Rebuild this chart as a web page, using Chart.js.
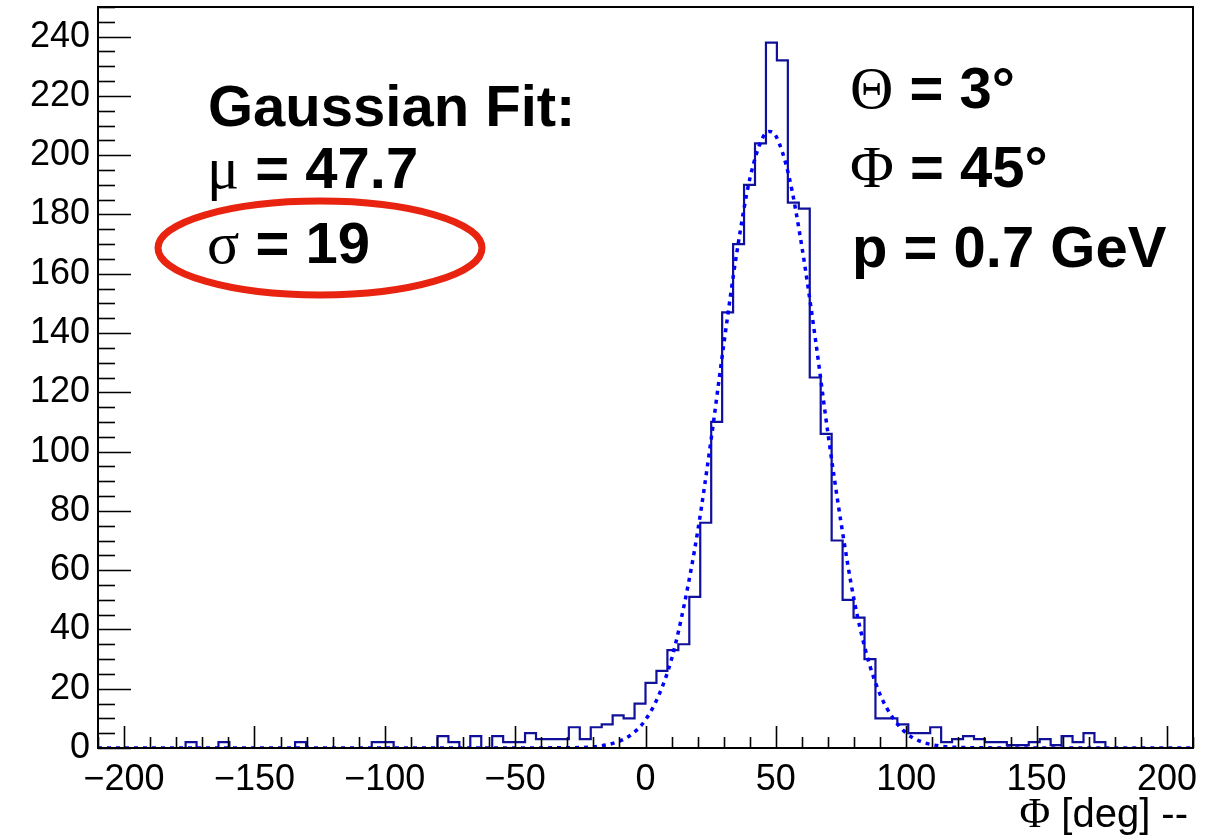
<!DOCTYPE html>
<html>
<head>
<meta charset="utf-8">
<script src="https://cdn.jsdelivr.net/npm/chart.js@4.4.1/dist/chart.umd.min.js"></script>
<style>
  html, body { margin: 0; padding: 0; background: #fff; }
  #wrap { width: 1220px; height: 837px; }
</style>
</head>
<body>
<div id="wrap"><canvas id="c" width="1220" height="837"></canvas></div>
<script>
// histogram: 100 bins from -210 to 210
const BIN_LO = -210, BIN_W = 4.2;
const counts = [
  0, 0, 0, 0, 0, 0, 0, 0, 2, 0,
  0, 2, 0, 0, 0, 0, 0, 0, 2, 0,
  0, 0, 0, 0, 0, 2, 2, 0, 0, 0,
  0, 4, 2, 0, 4, 0, 4, 2, 2, 5,
  3, 3, 3, 7, 3, 7, 8, 11, 10, 15,
  22, 26, 33, 35, 51, 76, 110, 147, 170, 190,
  204, 238, 232, 184, 182, 125, 106, 70, 50, 44,
  30, 10, 10, 8, 5, 5, 7, 2, 3, 4,
  3, 2, 2, 1, 1, 2, 3, 1, 4, 2,
  5, 2, 0, 0, 0, 0, 0, 0, 0, 0
];

// gaussian fit curve
const fitX = [-210, -100, -50, -30, -20, -10, -5, 0, 5, 10, 15, 20, 25, 30, 35, 40, 45, 47.5,
              50, 55, 60, 65, 70, 75, 80, 85, 90, 95, 100, 105, 110, 120, 150, 210];
const fitY = [0, 0, 0, 0.1, 0.4, 2.3, 4.8, 9.5, 17.6, 30, 49, 73, 103, 136, 167, 192, 206, 208,
              206.5, 193, 169, 139, 106, 76, 50, 31, 18, 10, 5, 2.4, 1.1, 0.2, 0, 0];

const xMajor = [-200, -150, -100, -50, 0, 50, 100, 150, 200];
const yMajor = [0, 20, 40, 60, 80, 100, 120, 140, 160, 180, 200, 220, 240];

const SANS = "'Liberation Sans', Arial, sans-serif";
const SERIF = "'Liberation Serif', 'Times New Roman', serif";

const histPts = counts.map((v, k) => ({ x: BIN_LO + k * BIN_W, y: v }));
histPts.push({ x: BIN_LO + counts.length * BIN_W, y: counts[counts.length - 1] });
const fitPts = fitX.map((x, i) => ({ x: x, y: fitY[i] }));

function segs(ctx, x, y, parts){
  for (const [txt, font] of parts){
    ctx.font = font;
    ctx.fillText(txt, x, y);
    x += ctx.measureText(txt).width;
  }
  return x;
}
function segsWidth(ctx, parts){
  let w = 0;
  for (const [txt, font] of parts){ ctx.font = font; w += ctx.measureText(txt).width; }
  return w;
}

const rootFrame = {
  id: 'rootFrame',
  afterDatasetsDraw(chart){
    const ctx = chart.ctx, a = chart.chartArea;
    const xs = chart.scales.x, ys = chart.scales.y;
    ctx.save();
    ctx.strokeStyle = '#000';
    ctx.lineWidth = 1.6;
    // y ticks, inside the frame
    for (let v = 0; v <= 250; v += 5){
      const py = Math.round(ys.getPixelForValue(v)) + 0.5;
      const len = (v % 20 === 0) ? 33 : 17;
      ctx.beginPath(); ctx.moveTo(a.left, py); ctx.lineTo(a.left + len, py); ctx.stroke();
    }
    // x ticks
    for (let v = -210; v <= 210; v += 10){
      const px = Math.round(xs.getPixelForValue(v)) + 0.5;
      const len = (v % 50 === 0) ? 22 : 11;
      ctx.beginPath(); ctx.moveTo(px, a.bottom); ctx.lineTo(px, a.bottom - len); ctx.stroke();
    }
    ctx.lineWidth = 2;
    ctx.strokeRect(a.left, a.top, a.right - a.left, a.bottom - a.top);
    ctx.restore();
  },
  afterDraw(chart){
    const ctx = chart.ctx;
    ctx.save();
    ctx.fillStyle = '#000';
    ctx.textBaseline = 'alphabetic';
    const B = "bold 58px " + SANS, G = "60px " + SERIF;
    ctx.font = B; ctx.fillText('Gaussian Fit:', 208, 126);
    segs(ctx, 207, 188, [['\u03bc', G], [' = 47.7', B]]);
    segs(ctx, 207, 263, [['\u03c3', G], [' = 19', B]]);
    segs(ctx, 850, 108, [['\u0398', G], [' = 3\u00b0', B]]);
    segs(ctx, 850, 187, [['\u03a6', G], [' = 45\u00b0', B]]);
    ctx.font = B; ctx.fillText('p = 0.7 GeV', 852, 267);

    // axis title, right aligned to the frame
    const title = [['\u03a6', "42px " + SERIF], [' [deg] --', "40px " + SANS]];
    const w = segsWidth(ctx, title);
    segs(ctx, chart.chartArea.right - 5 - w, 827, title);

    // red ellipse around sigma
    ctx.strokeStyle = '#e8230f';
    ctx.lineWidth = 7;
    ctx.beginPath();
    ctx.ellipse(320, 248, 162, 47, 0, 0, Math.PI * 2);
    ctx.stroke();
    ctx.restore();
  }
};

new Chart(document.getElementById('c'), {
  type: 'line',
  data: {
    datasets: [
      {
        label: 'fit', data: fitPts,
        borderColor: '#0000ff', borderWidth: 3.5, borderDash: [4, 5],
        pointRadius: 0, fill: false, cubicInterpolationMode: 'monotone'
      },
      {
        label: 'hist', data: histPts,
        borderColor: '#10109a', borderWidth: 2.2,
        pointRadius: 0, fill: false, stepped: true, tension: 0
      }
    ]
  },
  options: {
    responsive: false,
    animation: false,
    layout: { padding: { top: 7, right: 27, left: 0, bottom: 0 } },
    plugins: { legend: { display: false }, tooltip: { enabled: false } },
    scales: {
      x: {
        type: 'linear', min: -210, max: 210,
        grid: { display: false, drawTicks: false },
        border: { display: false },
        afterFit(s){ s.height = 89; s.paddingLeft = 0; s.paddingRight = 0; },
        ticks: {
          stepSize: 50, includeBounds: false, autoSkip: false, maxRotation: 0,
          padding: 10, color: '#000',
          font: { family: SANS, size: 36 },
          callback: v => xMajor.includes(v) ? (v < 0 ? '\u2212' + Math.abs(v) : String(v)) : ''
        }
      },
      y: {
        type: 'linear', min: 0, max: 250,
        grid: { display: false, drawTicks: false },
        border: { display: false },
        afterFit(s){ s.width = 98; s.paddingTop = 0; s.paddingBottom = 0; },
        ticks: {
          stepSize: 20, includeBounds: false, autoSkip: false,
          padding: 8, color: '#000',
          font: { family: SANS, size: 36 },
          callback: v => yMajor.includes(v) ? String(v) : ''
        }
      }
    }
  },
  plugins: [rootFrame]
});
</script>
</body>
</html>
